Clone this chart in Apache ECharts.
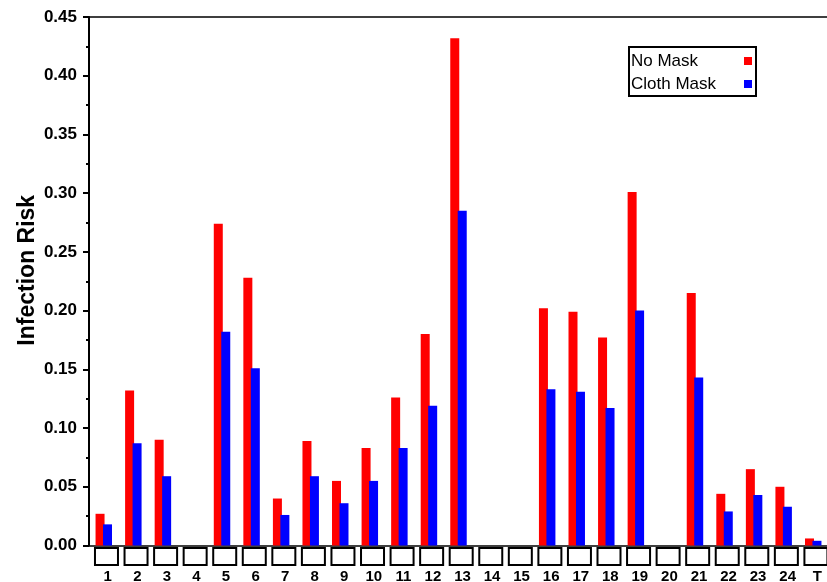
<!DOCTYPE html>
<html>
<head>
<meta charset="utf-8">
<script src="https://cdn.jsdelivr.net/npm/echarts@6/dist/echarts.min.js"></script>
<style>
  html, body { margin: 0; padding: 0; background: #fff; }
  #chart { width: 827px; height: 582px; }
</style>
</head>
<body>
<div id="chart"></div>
<script>
// Seat positions along the row (24 seats plus the teacher position "T")
const seats = ['1','2','3','4','5','6','7','8','9','10','11','12','13','14','15','16','17','18','19','20','21','22','23','24','T'];

// Infection risk without a mask
const noMask = [0.027, 0.132, 0.090, 0, 0.274, 0.228, 0.040, 0.089, 0.055, 0.083, 0.126, 0.180, 0.432,
                0, 0, 0.202, 0.199, 0.177, 0.301, 0, 0.215, 0.044, 0.065, 0.050, 0.006];

// Infection risk with a cloth mask
const clothMask = [0.018, 0.087, 0.059, 0, 0.182, 0.151, 0.026, 0.059, 0.036, 0.055, 0.083, 0.119, 0.285,
                   0, 0, 0.133, 0.131, 0.117, 0.200, 0, 0.143, 0.029, 0.043, 0.033, 0.004];

const FONT = 'Arial, "Liberation Sans", sans-serif';

const chart = echarts.init(document.getElementById('chart'), null, { renderer: 'canvas' });

chart.setOption({
  animation: false,
  backgroundColor: '#fff',
  grid: { left: 89, right: -1, top: 17, bottom: 36.5, containLabel: false, outerBoundsMode: 'none' },
  legend: {
    orient: 'vertical',
    left: 629,
    top: 47,
    align: 'right',
    icon: 'rect',
    itemWidth: 8,
    itemHeight: 8,
    itemGap: 3,
    padding: [4, 4, 2, 2],
    borderColor: '#000',
    borderWidth: 2,
    backgroundColor: '#fff',
    formatter: name => '{n|' + name + '}',
    textStyle: {
      fontFamily: FONT, fontSize: 17, color: '#000', lineHeight: 20,
      rich: { n: { width: 108, align: 'left', fontFamily: FONT, fontSize: 17, color: '#000', lineHeight: 20 } }
    },
    data: ['No Mask', 'Cloth Mask']
  },
  xAxis: [
    {
      type: 'category',
      data: seats,
      position: 'bottom',
      axisLine: { lineStyle: { color: '#000', width: 1.5 } },
      axisTick: { show: false },
      axisLabel: {
        color: '#000', fontFamily: FONT, fontWeight: 'bold', fontSize: 15,
        margin: 24, interval: 0, padding: [0, 0, 0, 8]
      },
      splitLine: { show: false }
    },
    {
      type: 'category',
      data: seats,
      position: 'top',
      axisLine: { lineStyle: { color: '#000', width: 1.5 } },
      axisTick: { show: false },
      axisLabel: { show: false },
      splitLine: { show: false }
    }
  ],
  yAxis: {
    type: 'value',
    min: 0,
    max: 0.45,
    interval: 0.05,
    name: 'Infection Risk',
    nameLocation: 'middle',
    nameGap: 50,
    nameMoveOverlap: false,
    nameTextStyle: {
      fontFamily: FONT, fontWeight: 'bold', fontSize: 23, color: '#000',
      padding: [0, 0, 0, 22]
    },
    axisLine: { show: true, lineStyle: { color: '#000', width: 2 } },
    axisTick: { show: true, inside: false, length: 6, lineStyle: { color: '#000', width: 2 } },
    minorTick: { show: true, splitNumber: 2, length: 3, lineStyle: { color: '#000', width: 2 } },
    axisLabel: {
      color: '#000', fontFamily: FONT, fontWeight: 'bold', fontSize: 17, margin: 12,
      formatter: v => v.toFixed(2)
    },
    splitLine: { show: false }
  },
  series: [
    {
      name: 'No Mask',
      type: 'bar',
      data: noMask,
      barWidth: 9,
      barGap: '-17%',
      itemStyle: { color: '#ff0000' },
      z: 2
    },
    {
      name: 'Cloth Mask',
      type: 'bar',
      data: clothMask,
      barWidth: 9,
      itemStyle: { color: '#0000ff' },
      z: 3
    },
    {
      // seat boxes drawn under each category
      type: 'custom',
      silent: true,
      clip: false,
      z: 5,
      data: seats.map((s, i) => [i, 0]),
      renderItem: function (params, api) {
        const p = api.coord([api.value(0), 0]);
        return {
          type: 'rect',
          shape: { x: p[0] + 2.7 - 11.5, y: p[1] + 2.5, width: 23, height: 17 },
          style: { fill: '#fff', stroke: '#000', lineWidth: 2 }
        };
      }
    }
  ]
});
</script>
</body>
</html>
